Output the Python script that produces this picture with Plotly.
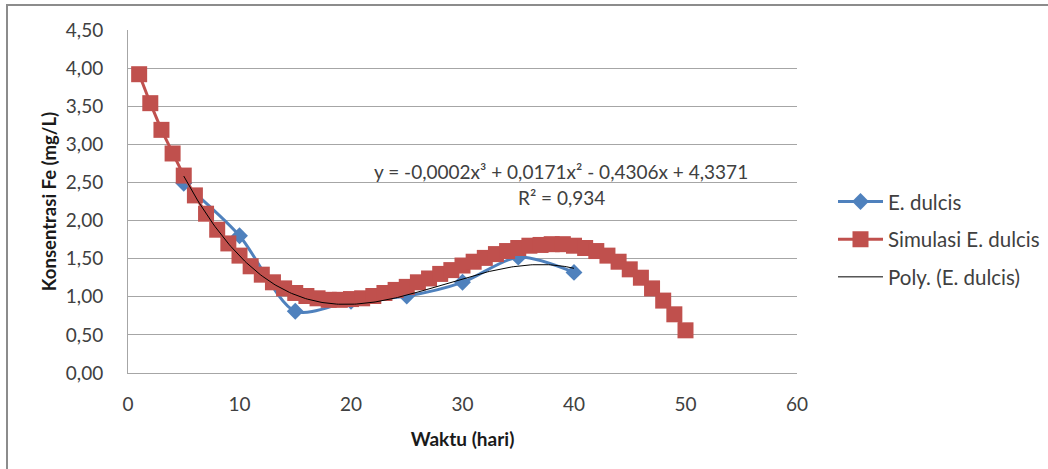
import numpy as np
import plotly.graph_objects as go

# E. dulcis measured data
dulcis_x = [5, 10, 15, 20, 25, 30, 35, 40]
dulcis_y = [2.49, 1.80, 0.81, 0.94, 1.01, 1.19, 1.52, 1.32]

# Simulasi E. dulcis
sim_x = list(range(1, 51))
sim_y = [3.92, 3.54, 3.19, 2.88, 2.59, 2.33, 2.09, 1.88, 1.70, 1.54,
         1.40, 1.29, 1.19, 1.11, 1.05, 1.01, 0.98, 0.96, 0.96, 0.97,
         0.98, 1.01, 1.05, 1.09, 1.13, 1.19, 1.24, 1.30, 1.35, 1.41,
         1.46, 1.51, 1.56, 1.60, 1.64, 1.67, 1.68, 1.69, 1.69, 1.67,
         1.64, 1.60, 1.54, 1.46, 1.36, 1.25, 1.11, 0.95, 0.77, 0.56]

x_ticks = [0, 10, 20, 30, 40, 50, 60]
y_ticks = [0, 0.5, 1, 1.5, 2, 2.5, 3, 3.5, 4, 4.5]

eq_text = "y = -0,0002x³ + 0,0171x² - 0,4306x + 4,3371"
r2_text = "R² = 0,934"

FONT = "Lato"
BLUE = "#4F81BD"
RED = "#C0504D"
TXT = "#404040"

L, R, T, B = 128, 251, 30, 96
PW = 1048 - L - R
PH = 469 - T - B

# polynomial trendline (order 3) fitted to E. dulcis
coef = np.polyfit(dulcis_x, dulcis_y, 3)
tx = np.linspace(min(dulcis_x), max(dulcis_x), 200)
ty = np.polyval(coef, tx)

fig = go.Figure()
fig.add_trace(go.Scatter(
    x=dulcis_x, y=dulcis_y, name="E. dulcis", mode="lines+markers",
    line=dict(color=BLUE, width=3, shape="spline", smoothing=0.8),
    marker=dict(symbol="diamond", size=13, color=BLUE),
    legendgroup="a"))
fig.add_trace(go.Scatter(
    x=sim_x, y=sim_y, name="Simulasi E. dulcis", mode="lines+markers",
    line=dict(color=RED, width=3),
    marker=dict(symbol="square", size=16, color=RED),
    legendgroup="b"))
fig.add_trace(go.Scatter(
    x=tx, y=ty, name="Poly. (E. dulcis)", mode="lines",
    line=dict(color="black", width=1),
    legendgroup="c"))

fig.add_annotation(x=38.84, y=2.64, xref="x", yref="y", text=eq_text,
                   showarrow=False, font=dict(family=FONT, size=19, color=TXT))
fig.add_annotation(x=38.84, y=2.30, xref="x", yref="y", text=r2_text,
                   showarrow=False, font=dict(family=FONT, size=19, color=TXT))

# outer chart frame
fig.add_shape(type="rect", xref="paper", yref="paper",
              x0=(7 - L) / PW, x1=(1070 - L) / PW,
              y0=-0.5, y1=1 + 25 / PH,
              line=dict(color="#8c8c8c", width=2), layer="below")

fig.update_layout(
    width=1048, height=469,
    margin=dict(l=L, r=R, t=T, b=B, autoexpand=False),
    paper_bgcolor="white", plot_bgcolor="white",
    separators=",.",
    font=dict(family=FONT, size=19, color=TXT),
    showlegend=True,
    legend=dict(x=(833 - L) / PW, y=0.39, xanchor="left", yanchor="middle",
                font=dict(family=FONT, size=20.5, color=TXT),
                traceorder="grouped", tracegroupgap=8, itemwidth=45,
                bgcolor="rgba(0,0,0,0)"),
    xaxis=dict(range=[0, 60], tickvals=x_ticks, showgrid=False,
               showline=True, linecolor="#a6a6a6", linewidth=1,
               ticks="", zeroline=False, automargin=False,
               ticklabelstandoff=14,
               title=dict(text="<b>Waktu (hari)</b>", standoff=18,
                          font=dict(family=FONT, size=19, color="#1a1a1a")),
               tickfont=dict(family=FONT, size=19, color=TXT)),
    yaxis=dict(range=[0, 4.5], tickvals=y_ticks, tickformat=".2f",
               showgrid=True, gridcolor="#a6a6a6", gridwidth=1,
               showline=True, linecolor="#a6a6a6", linewidth=1,
               ticks="", zeroline=False, automargin=False,
               ticklabelstandoff=20,
               title=dict(text="<b>Konsentrasi Fe (mg/L)</b>", standoff=4,
                          font=dict(family=FONT, size=18.5, color="#1a1a1a")),
               tickfont=dict(family=FONT, size=19, color=TXT)),
)

fig.write_html("out.html", config={"displayModeBar": False},
               post_script="document.body.style.margin='0px';")
